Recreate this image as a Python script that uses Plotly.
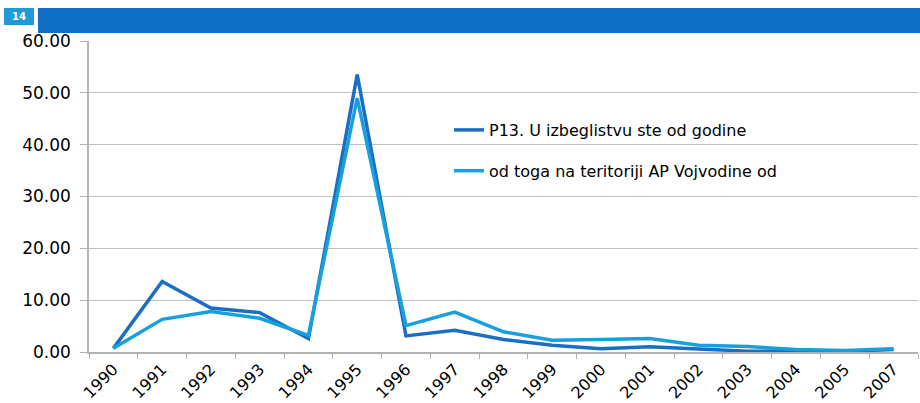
import plotly.graph_objects as go

years = ["1990", "1991", "1992", "1993", "1994", "1995", "1996", "1997", "1998",
         "1999", "2000", "2001", "2002", "2003", "2004", "2005", "2007"]
series_total = [0.7, 13.6, 8.5, 7.6, 2.6, 53.5, 3.1, 4.2, 2.4,
                1.3, 0.65, 1.0, 0.6, 0.15, 0.2, 0.1, 0.5]
series_vojvodina = [0.7, 6.3, 7.8, 6.5, 3.2, 49.0, 5.1, 7.7, 3.9,
                    2.25, 2.4, 2.6, 1.3, 1.05, 0.5, 0.3, 0.65]
name_total = "P13. U izbeglistvu ste od godine"
name_vojvodina = "od toga na teritoriji AP Vojvodine od"
slide_number = "14"

DARK = "#1a6fc4"
LIGHT = "#17a0db"
FONT = "'DejaVu Sans', sans-serif"

W, H = 920, 403
L, R, T, B = 89, 2, 41, 51
pw, ph = W - L - R, H - T - B

def px(x):
    return (x - L) / pw

def py(y):
    return (H - B - y) / ph

fig = go.Figure()
fig.add_trace(go.Scatter(x=years, y=series_total, mode="lines", name=name_total,
                         legendgroup="a",
                         line=dict(color=DARK, width=3.5)))
fig.add_trace(go.Scatter(x=years, y=series_vojvodina, mode="lines", name=name_vojvodina,
                         legendgroup="b",
                         line=dict(color=LIGHT, width=3.5)))

fig.update_layout(
    width=W, height=H,
    margin=dict(l=L, r=R, t=T, b=B),
    paper_bgcolor="white", plot_bgcolor="white",
    font=dict(family=FONT, color="#000000"),
    showlegend=True,
    legend=dict(x=px(449), y=py(113), xanchor="left", yanchor="top",
                bgcolor="rgba(0,0,0,0)", font=dict(size=16, family=FONT),
                tracegroupgap=17, itemwidth=30),
    xaxis=dict(type="category", tickangle=-45, tickfont=dict(size=16),
               showline=True, linecolor="#b3b3b3", linewidth=1.5,
               ticks="outside", ticklen=5, tickcolor="#b3b3b3",
               tickson="boundaries", showgrid=False, automargin=False,
               range=[-0.5, len(years) - 0.5]),
    yaxis=dict(range=[0, 60], dtick=10, tickformat=".2f", tickfont=dict(size=17),
               showline=True, linecolor="#b3b3b3", linewidth=1.5,
               ticks="outside", ticklen=7, tickcolor="#b3b3b3", ticklabelstandoff=6,
               gridcolor="#c0c0c0", gridwidth=1.3, zeroline=False, automargin=False),
    shapes=[
        dict(type="rect", xref="paper", yref="paper", x0=px(4), x1=px(34), y0=py(25), y1=py(8),
             fillcolor="#1e9ad6", line=dict(width=0), layer="above"),
        dict(type="rect", xref="paper", yref="paper", x0=px(38), x1=px(920), y0=py(33), y1=py(8),
             fillcolor="#0f70c5", line=dict(width=0), layer="above"),
    ],
    annotations=[
        dict(text="<b>" + slide_number + "</b>", xref="paper", yref="paper",
             x=px(19), y=py(16.5), xanchor="center", yanchor="middle", showarrow=False,
             font=dict(size=10, color="white", family=FONT)),
    ],
)

fig.write_html("out.html", config={"displayModeBar": False},
               post_script="document.body.style.margin='0';document.body.style.overflow='hidden';")
